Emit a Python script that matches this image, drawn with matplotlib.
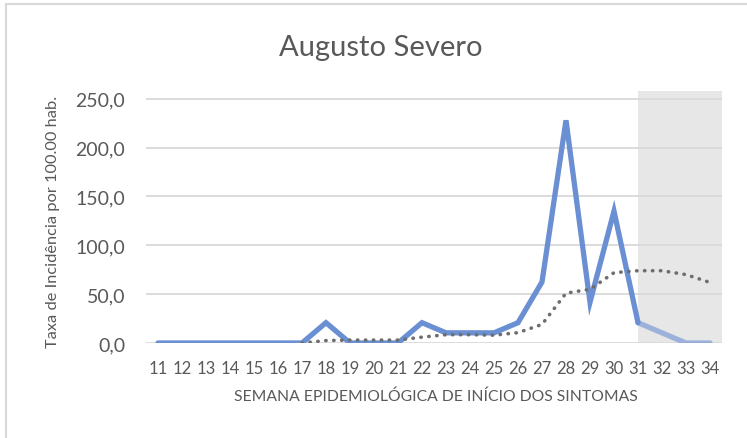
import matplotlib

matplotlib.use("Agg")
import matplotlib.pyplot as plt
from matplotlib.patches import Rectangle
from matplotlib.ticker import FuncFormatter

weeks = list(range(11, 35))
incidence = [0, 0, 0, 0, 0, 0, 0, 20.8, 0, 0, 0, 20.8, 10.4, 10.4, 10.4,
             20.8, 62.5, 228.0, 41.7, 135.0, 20.8, 10.4, 0, 0]
trend_weeks = list(range(17, 35))
trend = [0, 2.5, 3, 3, 3, 6, 8.5, 8.5, 8, 10.6, 19, 51, 55, 72, 74, 74, 70, 62]
shade_start = 31

text_color = "#595959"
plt.rcParams["font.family"] = ["Lato", "DejaVu Sans"]

fig = plt.figure(figsize=(7.47, 4.39), dpi=100)
ax = fig.add_axes([146 / 747, 1 - 344 / 439, 576 / 747, 252 / 439])

ax.axvspan(shade_start, 34.5, color="#e7e7e7", zorder=0, lw=0)

i = weeks.index(shade_start)
ax.plot(weeks[: i + 1], incidence[: i + 1], color="#6a8fd2", lw=3.8,
        solid_joinstyle="miter", solid_capstyle="round", zorder=3)
ax.plot(weeks[i:], incidence[i:], color="#6a8fd2", alpha=0.6, lw=3.8,
        solid_capstyle="round", zorder=3)
ax.plot(trend_weeks, trend, color="#6e6e6e", lw=2.6, ls=(0, (0.1, 2.1)),
        dash_capstyle="round", zorder=4)

ax.set_xlim(10.5, 34.5)
ax.set_ylim(0, 258)
ax.set_xticks(weeks)
ax.set_yticks(range(0, 251, 50))
ax.yaxis.set_major_formatter(FuncFormatter(lambda v, _: f"{v:.1f}".replace(".", ",")))
ax.tick_params(length=0, colors=text_color)
ax.tick_params(axis="y", labelsize=14, pad=15)
ax.tick_params(axis="x", labelsize=12, pad=12)
ax.grid(axis="y", color="#d9d9d9", lw=1.3)
ax.set_axisbelow(True)
for spine in ax.spines.values():
    spine.set_visible(False)

fig.text(0.51, 0.89, "Augusto Severo", ha="center", va="center",
         fontsize=21, color=text_color)
fig.text(0.583, 0.096, "SEMANA EPIDEMIOLÓGICA DE INÍCIO DOS SINTOMAS",
         ha="center", va="center", fontsize=11.3, color=text_color)
fig.text(53 / 747, 1 - 222 / 439, "Taxa de Incidência por 100.00 hab.",
         ha="center", va="center", rotation=90, fontsize=11.8, color=text_color)

fig.patches.append(Rectangle((6 / 747, -0.1), 1.2, 1 - 5 / 439 + 0.1,
                             transform=fig.transFigure, fill=False,
                             edgecolor="#d9d9d9", lw=1.5))

fig.savefig("out.png", dpi=100)
